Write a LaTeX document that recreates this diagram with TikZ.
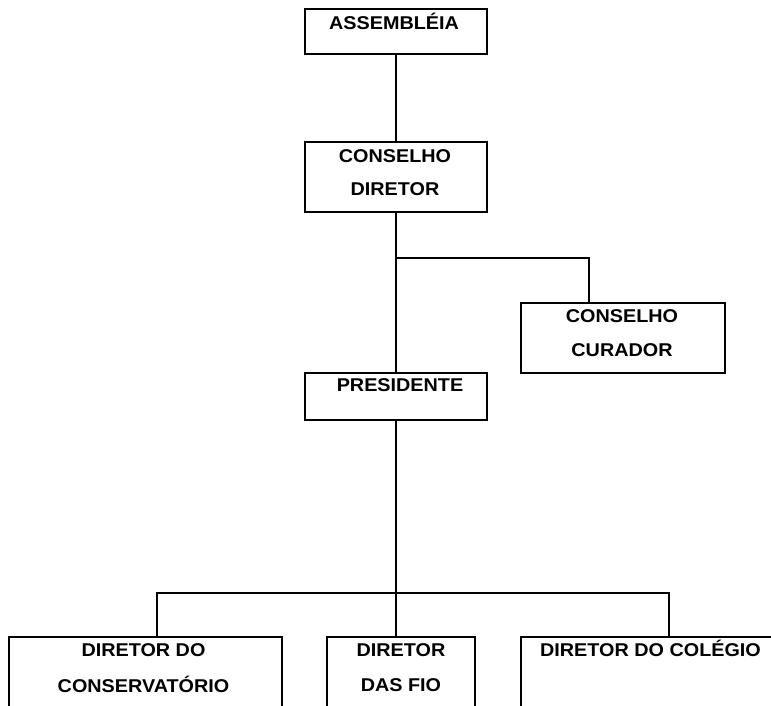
\documentclass[tikz,border=0pt]{standalone}
\usepackage{fontspec}
\setmainfont{Liberation Sans}[FakeStretch=1.07]
\usetikzlibrary{calc}
\begin{document}
\begin{tikzpicture}[x=1pt,y=-1pt,
  box/.style={draw=black,line width=2pt,rectangle,inner sep=0pt,minimum width=#1},
  lbl/.style={anchor=base,inner sep=0pt,font=\fontsize{18.5}{18.5}\selectfont\bfseries},
  conn/.style={draw=black,line width=2pt}]
\clip (0,0) rectangle (771,706);
\fill[white] (0,0) rectangle (771,706);
% boxes
\node[box=182,minimum height=45] (ass) at (396,31.5) {};
\node[box=182,minimum height=70] (cd) at (396,177) {};
\node[box=204,minimum height=70] (cc) at (623,338) {};
\node[box=182,minimum height=47] (pres) at (396,396.5) {};
\node[box=273,minimum height=90] (d1) at (145.5,682) {};
\node[box=148,minimum height=90] (d2) at (401,682) {};
\node[box=259,minimum height=90] (d3) at (650.5,682) {};
% labels
\node[lbl] (tass) at ($(ass.north)+(-2,22)$) {ASSEMBLÉIA};
\node[lbl] (tcd1) at ($(cd.north)+(-1,21)$) {CONSELHO};
\node[lbl] (tcd2) at ($(cd.north)+(-1,54)$) {DIRETOR};
\node[lbl] (tcc1) at ($(cc.north)+(-1,20)$) {CONSELHO};
\node[lbl] (tcc2) at ($(cc.north)+(-1,54)$) {CURADOR};
\node[lbl] (tpres) at ($(pres.north)+(4,19)$) {PRESIDENTE};
\node[lbl] (td11) at ($(d1.north)+(-2,20)$) {DIRETOR DO};
\node[lbl] (td12) at ($(d1.north)+(-2,56)$) {CONSERVATÓRIO};
\node[lbl] (td21) at ($(d2.north)+(0,20)$) {DIRETOR};
\node[lbl] (td22) at ($(d2.north)+(0,55)$) {DAS FIO};
\node[lbl] (td31) at ($(d3.north)+(0,20)$) {DIRETOR DO COLÉGIO};
% junctions
\coordinate (j1) at (396,258);
\coordinate (j1r) at (589,258);
\coordinate (j2) at (396,593);
\coordinate (j2l) at (157,593);
\coordinate (j2r) at (669,593);
% connectors
\draw[conn] (ass.south) -- (cd.north);
\draw[conn] (cd.south) -- (pres.north);
\draw[conn] (j1) -- (j1r) -- (j1r |- cc.north);
\draw[conn] (pres.south) -- (j2);
\draw[conn] (j2l |- d1.north) -- (j2l) -- (j2r) -- (j2r |- d3.north);
\draw[conn] (j2) -- (j2 |- d2.north);
\end{tikzpicture}
\end{document}
